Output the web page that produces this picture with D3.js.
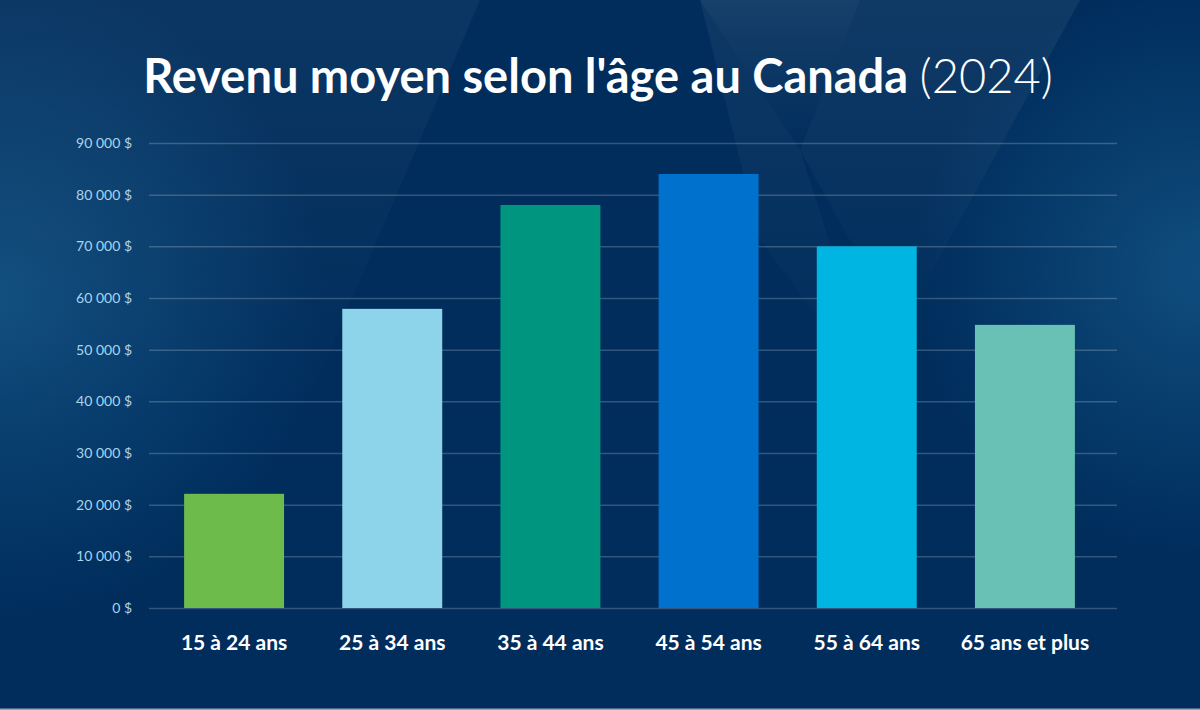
<!DOCTYPE html>
<html lang="fr">
<head>
<meta charset="utf-8">
<script src="https://cdn.jsdelivr.net/npm/d3@7/dist/d3.min.js"></script>
<style>
  html, body { margin: 0; padding: 0; background: #002d5c; }
  svg { display: block; }
</style>
</head>
<body>
<script>
//-----------------Data----------------
const ageGroups = ["15 à 24 ans", "25 à 34 ans", "35 à 44 ans", "45 à 54 ans", "55 à 64 ans", "65 ans et plus"];
const avgIncome = [22100, 57900, 78000, 84000, 70000, 54800];
const barColors = ["#6cbb4b", "#8dd3e9", "#00957f", "#0071cc", "#00b5e2", "#69c0b4"];
const yTicks = [0, 10000, 20000, 30000, 40000, 50000, 60000, 70000, 80000, 90000];
const titleMain = "Revenu moyen selon l'âge au Canada";
const titleYear = "(2024)";

//-----------------Svg----------------
const width = 1200;
const height = 710;

const svg = d3.select("body").append("svg").attr("width", width).attr("height", height);
const defs = svg.append("defs");

// background glows
const leftGlow = defs.append("radialGradient").attr("id", "leftGlow")
  .attr("cx", 0).attr("cy", 0.42).attr("r", 0.45)
  .attr("gradientTransform", "translate(0,0.42) scale(0.6,1) translate(0,-0.42)");
leftGlow.append("stop").attr("offset", "0%").attr("stop-color", "#0f4d7e").attr("stop-opacity", 1);
leftGlow.append("stop").attr("offset", "100%").attr("stop-color", "#0f4d7e").attr("stop-opacity", 0);

const rightGlow = defs.append("radialGradient").attr("id", "rightGlow")
  .attr("cx", 1).attr("cy", 0.38).attr("r", 0.4)
  .attr("gradientTransform", "translate(1,0.38) scale(0.6,1) translate(-1,-0.38)");
rightGlow.append("stop").attr("offset", "0%").attr("stop-color", "#0f4d7e").attr("stop-opacity", 1);
rightGlow.append("stop").attr("offset", "100%").attr("stop-color", "#0f4d7e").attr("stop-opacity", 0);

const topGlow = defs.append("linearGradient").attr("id", "topGlow").attr("x1", 0).attr("y1", 0).attr("x2", 0).attr("y2", 1);
topGlow.append("stop").attr("offset", "0%").attr("stop-color", "#ffffff").attr("stop-opacity", 0.09);
topGlow.append("stop").attr("offset", "100%").attr("stop-color", "#ffffff").attr("stop-opacity", 0);

svg.append("rect").attr("width", width).attr("height", height).attr("fill", "#002d5c");
svg.append("rect").attr("width", width).attr("height", height).attr("fill", "url(#leftGlow)");
svg.append("rect").attr("width", width).attr("height", height).attr("fill", "url(#rightGlow)");

// faint diagonal shapes in the background
const shapes = [
  [[0, 0], [480, 0], [300, 420], [0, 420]],
  [[700, 0], [860, 0], [800, 150]],
  [[860, 0], [1080, 0], [900, 330], [800, 150]],
  [[700, 0], [800, 150], [880, 400], [760, 240]]
];
const shapeOpacity = [0.5, 1, 0.7, 0.6];
svg.selectAll("polygon.bg")
  .data(shapes)
  .enter()
  .append("polygon")
  .attr("class", "bg")
  .attr("points", (d) => d.map((p) => p.join(",")).join(" "))
  .attr("fill", "url(#topGlow)")
  .attr("opacity", (d, i) => shapeOpacity[i]);

svg.append("rect").attr("x", 0).attr("y", 708.5).attr("width", width).attr("height", 1.5).attr("fill", "#8fa9c4");

//-----------------Scales----------------
const x = d3.scaleBand().domain(ageGroups).range([155, 1104]).paddingInner(0.368).paddingOuter(0.184);
const y = d3.scaleLinear().domain([0, 90000]).range([608, 143]);

const fmt = (v) => d3.format(",")(v).replace(/,/g, " ") + " $";

//-----------------Grid & axis----------------
const yAxis = svg.append("g")
  .attr("transform", "translate(149,0)")
  .call(d3.axisLeft(y).tickValues(yTicks).tickSize(-968).tickPadding(17).tickFormat(fmt));
yAxis.select(".domain").remove();
yAxis.selectAll(".tick line").attr("stroke", "#ffffff").attr("stroke-opacity", 0.2).attr("stroke-width", 1.5);
yAxis.selectAll(".tick text")
  .attr("fill", "#acd4ea")
  .style("font-family", "Lato, sans-serif")
  .style("font-size", "14px");

//-----------------Bars----------------
svg.selectAll("rect.bar")
  .data(avgIncome)
  .enter()
  .append("rect")
  .attr("class", "bar")
  .attr("x", (d, i) => x(ageGroups[i]))
  .attr("y", (d) => y(d))
  .attr("width", x.bandwidth())
  .attr("height", (d) => y(0) - y(d))
  .attr("fill", (d, i) => barColors[i]);

const xAxis = svg.append("g")
  .attr("transform", "translate(0,608)")
  .call(d3.axisBottom(x).tickSize(0).tickPadding(27));
xAxis.select(".domain").remove();
xAxis.selectAll(".tick text")
  .attr("fill", "#ffffff")
  .style("font-family", "Lato, sans-serif")
  .style("font-weight", "700")
  .style("font-size", "21px");

//-----------------Title----------------
const title = svg.append("text")
  .attr("x", 598)
  .attr("y", 93)
  .attr("text-anchor", "middle")
  .attr("fill", "#ffffff")
  .style("font-family", "Lato, sans-serif")
  .style("font-size", "47px");
title.append("tspan").style("font-weight", "700").text(titleMain + " ");
title.append("tspan").style("font-weight", "300").text(titleYear);
</script>
</body>
</html>
